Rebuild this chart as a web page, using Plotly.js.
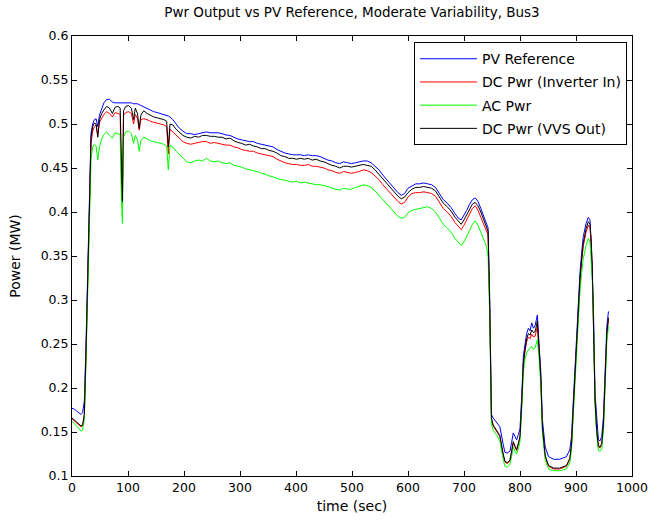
<!DOCTYPE html>
<html>
<head>
<meta charset="utf-8">
<script src="https://cdn.plot.ly/plotly-3.0.1.min.js"></script>
<style>
html,body{margin:0;padding:0;background:#fff;}
#chart{width:649px;height:522px;}
</style>
</head>
<body>
<div id="chart"></div>
<script>
// time axis (sec)
var time = [
0,4,8,12,16,19,22,25,28,30,
32,34,37,40,43,46,49,53,57,62,
67,72,77,82,86,88,90,92,96,101,
106,110,113,117,120,123,128,134,140,146,
152,158,164,169,172,175,180,186,192,198,
205,212,219,226,233,240,247,254,261,268,
275,282,289,296,303,310,317,324,331,338,
345,352,359,366,373,380,387,394,401,408,
415,422,429,436,443,450,457,464,471,478,
485,492,499,506,513,520,527,534,541,548,
555,562,569,576,582,588,594,600,607,614,
621,628,635,642,649,656,663,670,677,684,
690,695,700,705,710,715,720,725,730,735,
740,743,
746,749,752,758,764,770,773,777,782,785,
788,791,794,797,800,803,806,809,812,815,
818,821,824,827,829,831,834,837,840,845,
851,860,871,883,889,892,895,898,901,904,
907,910,913,918,922,925,927,929,931,934,
937,940,943,946,949,952,955,958
];

// PV Reference (MW)
var pvReference = [
0.177,0.176,0.174,0.172,0.170,0.172,0.185,0.250,0.340,0.400,
0.460,0.490,0.500,0.505,0.506,0.497,0.510,0.518,0.524,0.528,
0.528,0.525,0.524,0.524,0.524,0.524,0.524,0.524,0.524,0.524,
0.524,0.523,0.523,0.523,0.522,0.521,0.520,0.518,0.516,0.514,
0.513,0.512,0.511,0.510,0.509,0.508,0.505,0.500,0.495,0.492,
0.489,0.489,0.488,0.489,0.490,0.491,0.490,0.490,0.490,0.489,
0.4875,0.487,0.485,0.483,0.482,0.481,0.480,0.480,0.478,0.477,
0.476,0.475,0.474,0.471,0.469,0.467,0.466,0.465,0.465,0.465,
0.464,0.465,0.464,0.464,0.463,0.461,0.459,0.458,0.456,0.455,
0.457,0.456,0.455,0.456,0.457,0.458,0.458,0.456,0.452,0.448,
0.442,0.437,0.432,0.427,0.422,0.419,0.421,0.427,0.430,0.432,
0.432,0.433,0.432,0.431,0.428,0.421,0.414,0.410,0.405,0.398,
0.393,0.391,0.396,0.402,0.409,0.414,0.416,0.412,0.404,0.396,
0.388,0.382,
0.300,0.170,0.166,0.161,0.156,0.136,0.127,0.126,0.128,0.138,
0.149,0.145,0.141,0.147,0.154,0.190,0.236,0.250,0.262,0.268,
0.265,0.274,0.268,0.271,0.278,0.283,0.250,0.220,0.164,0.133,
0.122,0.119,0.119,0.122,0.130,0.145,0.183,0.220,0.270,0.308,
0.330,0.353,0.372,0.387,0.394,0.391,0.360,0.338,0.296,0.194,
0.160,0.141,0.140,0.145,0.167,0.217,0.270,0.287
];

// DC Pwr (Inverter In) (MW)
var dcPwrInverterIn = [
0.165,0.163,0.161,0.159,0.156,0.157,0.169,0.238,0.328,0.388,
0.450,0.478,0.492,0.497,0.499,0.487,0.502,0.507,0.511,0.514,
0.512,0.508,0.513,0.512,0.511,0.445,0.408,0.510,0.513,0.514,
0.512,0.500,0.511,0.506,0.493,0.505,0.506,0.505,0.503,0.502,
0.501,0.500,0.499,0.497,0.466,0.494,0.491,0.487,0.483,0.480,
0.478,0.477,0.478,0.479,0.480,0.480,0.478,0.479,0.478,0.477,
0.476,0.476,0.474,0.473,0.471,0.470,0.469,0.469,0.467,0.466,
0.465,0.464,0.463,0.460,0.458,0.456,0.455,0.454,0.454,0.453,
0.453,0.454,0.452,0.452,0.451,0.450,0.448,0.447,0.445,0.444,
0.446,0.445,0.444,0.445,0.446,0.448,0.447,0.445,0.441,0.437,
0.431,0.426,0.421,0.416,0.412,0.409,0.411,0.417,0.421,0.422,
0.422,0.423,0.422,0.421,0.418,0.411,0.404,0.400,0.395,0.388,
0.383,0.380,0.385,0.391,0.398,0.404,0.407,0.402,0.394,0.386,
0.380,0.374,
0.288,0.165,0.157,0.151,0.145,0.124,0.116,0.114,0.117,0.127,
0.138,0.133,0.129,0.136,0.144,0.181,0.226,0.242,0.253,0.258,
0.256,0.261,0.258,0.259,0.264,0.270,0.243,0.212,0.155,0.122,
0.111,0.108,0.108,0.111,0.119,0.135,0.174,0.211,0.260,0.297,
0.320,0.343,0.361,0.377,0.385,0.382,0.365,0.336,0.288,0.185,
0.151,0.133,0.132,0.136,0.158,0.206,0.260,0.278
];

// AC Pwr (MW)
var acPwr = [
0.162,0.160,0.157,0.154,0.151,0.152,0.165,0.230,0.315,0.372,
0.430,0.460,0.474,0.477,0.475,0.459,0.474,0.483,0.488,0.491,
0.487,0.484,0.490,0.489,0.488,0.420,0.387,0.485,0.491,0.492,
0.489,0.478,0.487,0.482,0.469,0.481,0.485,0.483,0.481,0.480,
0.479,0.478,0.477,0.475,0.448,0.476,0.474,0.469,0.465,0.461,
0.457,0.456,0.458,0.459,0.458,0.461,0.458,0.457,0.458,0.456,
0.455,0.456,0.453,0.452,0.451,0.449,0.448,0.447,0.446,0.444,
0.443,0.441,0.440,0.438,0.437,0.436,0.435,0.434,0.435,0.433,
0.434,0.433,0.432,0.431,0.431,0.430,0.429,0.427,0.426,0.425,
0.427,0.426,0.426,0.428,0.429,0.431,0.430,0.428,0.424,0.419,
0.414,0.409,0.404,0.399,0.395,0.393,0.394,0.399,0.402,0.403,
0.404,0.405,0.406,0.404,0.400,0.393,0.386,0.382,0.377,0.370,
0.365,0.362,0.366,0.372,0.379,0.386,0.390,0.385,0.377,0.369,
0.361,0.350,
0.280,0.160,0.152,0.147,0.140,0.119,0.111,0.110,0.113,0.122,
0.133,0.128,0.125,0.131,0.139,0.175,0.218,0.233,0.240,0.243,
0.246,0.247,0.244,0.246,0.250,0.255,0.235,0.205,0.150,0.118,
0.108,0.106,0.106,0.108,0.115,0.130,0.168,0.204,0.251,0.287,
0.309,0.330,0.347,0.362,0.370,0.366,0.345,0.325,0.280,0.180,
0.147,0.129,0.128,0.131,0.152,0.199,0.252,0.270
];

// DC Pwr (VVS Out) (MW)
var dcPwrVvsOut = [
0.166,0.164,0.162,0.160,0.157,0.158,0.170,0.240,0.330,0.390,
0.455,0.485,0.497,0.501,0.500,0.485,0.505,0.512,0.516,0.520,
0.518,0.512,0.519,0.520,0.518,0.450,0.412,0.515,0.520,0.521,
0.518,0.505,0.518,0.512,0.495,0.510,0.515,0.512,0.510,0.508,
0.507,0.506,0.505,0.503,0.474,0.500,0.499,0.494,0.490,0.487,
0.485,0.484,0.486,0.485,0.487,0.487,0.486,0.486,0.485,0.485,
0.483,0.484,0.481,0.479,0.478,0.476,0.477,0.475,0.474,0.472,
0.472,0.470,0.469,0.467,0.464,0.463,0.461,0.461,0.460,0.461,
0.460,0.461,0.459,0.460,0.458,0.457,0.455,0.453,0.452,0.450,
0.452,0.452,0.451,0.452,0.453,0.454,0.453,0.452,0.448,0.443,
0.437,0.432,0.428,0.422,0.418,0.415,0.417,0.422,0.426,0.428,
0.428,0.429,0.428,0.427,0.424,0.417,0.410,0.406,0.401,0.394,
0.389,0.386,0.391,0.397,0.404,0.409,0.411,0.407,0.400,0.392,
0.385,0.378,
0.290,0.166,0.158,0.152,0.146,0.125,0.117,0.115,0.118,0.128,
0.139,0.134,0.130,0.137,0.145,0.182,0.228,0.244,0.256,0.262,
0.260,0.266,0.263,0.264,0.270,0.276,0.245,0.214,0.156,0.123,
0.112,0.109,0.109,0.112,0.120,0.136,0.175,0.213,0.262,0.300,
0.323,0.346,0.365,0.381,0.389,0.386,0.370,0.340,0.290,0.186,
0.152,0.134,0.133,0.137,0.159,0.208,0.262,0.280
];

var seriesNames = ['PV Reference','DC Pwr (Inverter In)','AC Pwr','DC Pwr (VVS Out)'];
var seriesColors = ['#0000ff','#ff0000','#00ff00','#000000'];
var seriesData = [pvReference, dcPwrInverterIn, acPwr, dcPwrVvsOut];

var xTickVals = [0,100,200,300,400,500,600,700,800,900,1000];
var yTickVals = [0.1,0.15,0.2,0.25,0.3,0.35,0.4,0.45,0.5,0.55,0.6];

var FONT = 'DejaVu Sans, Liberation Sans, Arial, sans-serif';

var traces = seriesData.map(function(d,i){
  return {x: time, y: d, type:'scatter', mode:'lines', name: seriesNames[i],
          legendgroup: 'g' + i,
          line:{color: seriesColors[i], width:1}};
});

var axisCommon = {
  showline:true, linecolor:'#000', linewidth:1, mirror:'ticks',
  ticks:'inside', ticklen:5, tickcolor:'#000', tickwidth:1,
  showgrid:false, zeroline:false,
  tickfont:{family:FONT, size:12.5, color:'#000'}
};

var layout = {
  width:649, height:522,
  paper_bgcolor:'#fff', plot_bgcolor:'#fff',
  margin:{l:72, r:17, t:36, b:46},
  showlegend:true,
  title:{text:'Pwr Output vs PV Reference, Moderate Variability, Bus3',
         font:{family:FONT, size:13.5, color:'#000'}, xref:'paper', x:0.5, xanchor:'center', y:0.976, yanchor:'middle'},
  xaxis:Object.assign({}, axisCommon, {range:[0,1000], tickvals:xTickVals,
        title:{text:'time (sec)', font:{family:FONT, size:14, color:'#000'}, standoff:7}}),
  yaxis:Object.assign({}, axisCommon, {range:[0.1,0.6], tickvals:yTickVals,
        title:{text:'Power (MW)', font:{family:FONT, size:14, color:'#000'}, standoff:16}}),
  legend:{x:0.991, y:0.986, xanchor:'right', yanchor:'top',
          bgcolor:'#fff', bordercolor:'#000', borderwidth:1,
          itemwidth:57,
          font:{family:FONT, size:14, color:'#000'}, tracegroupgap:2}
};

Plotly.newPlot('chart', traces, layout, {displayModeBar:false, staticPlot:true});
</script>
</body>
</html>
